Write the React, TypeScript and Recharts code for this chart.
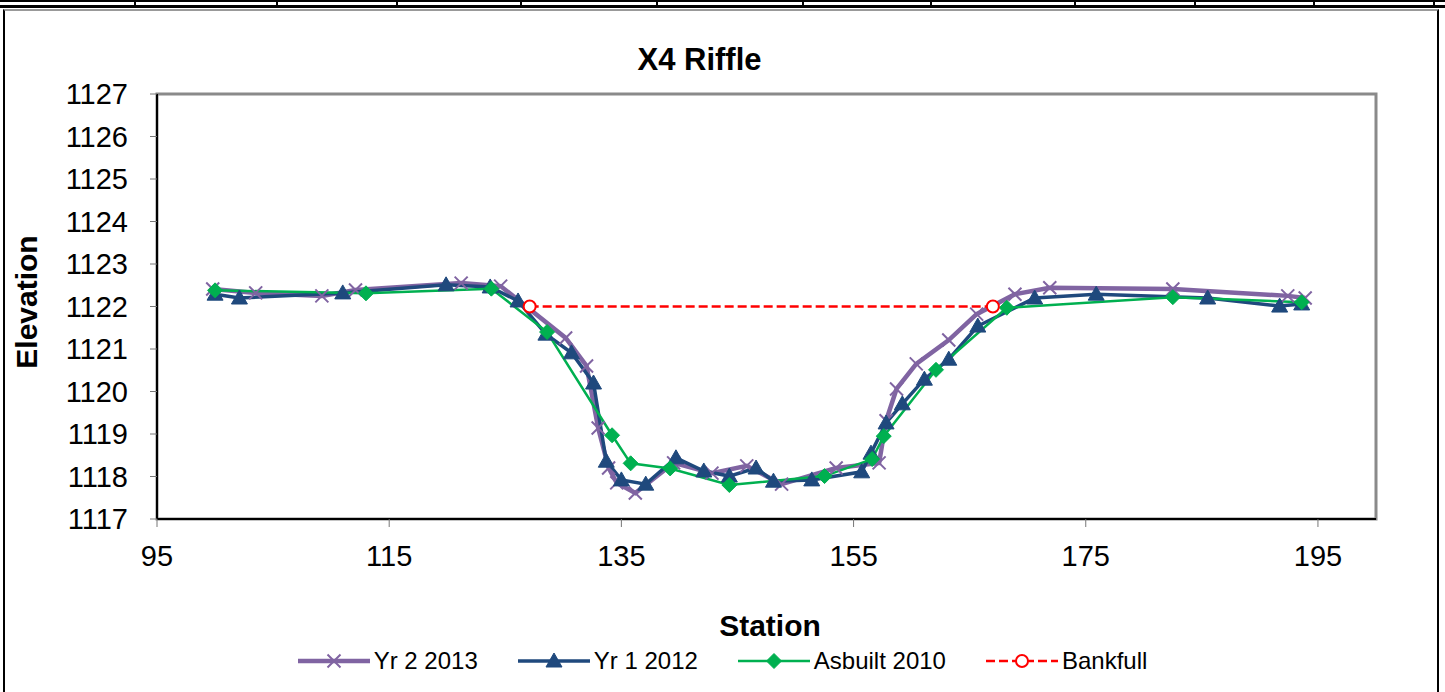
import * as React from "react"
import { LineChart, Line, XAxis, YAxis, ReferenceArea } from "recharts"

// station / elevation pairs
const yr2Station = [99.8, 103.5, 109.2, 112.1, 121.2, 124.6, 130.2, 132.0, 133.0, 133.9, 134.6, 136.2, 139.5, 142.8, 145.8, 148.8, 153.5, 157.2, 157.8, 158.7, 160.4, 163.2, 165.6, 168.9, 171.9, 182.5, 192.4, 193.9]
const yr2Elev = [1122.41, 1122.32, 1122.25, 1122.39, 1122.55, 1122.48, 1121.26, 1120.6, 1119.14, 1118.2, 1117.85, 1117.61, 1118.32, 1118.08, 1118.25, 1117.82, 1118.2, 1118.32, 1119.31, 1120.06, 1120.65, 1121.21, 1121.82, 1122.29, 1122.44, 1122.41, 1122.25, 1122.2]

const yr1Station = [100.0, 102.1, 111.0, 119.9, 123.7, 126.1, 128.5, 130.7, 132.6, 133.7, 135.0, 137.1, 139.7, 142.1, 144.3, 146.6, 148.1, 151.4, 155.7, 156.5, 157.8, 159.2, 161.1, 163.2, 165.7, 170.6, 175.9, 185.5, 191.7, 193.6]
const yr1Elev = [1122.29, 1122.2, 1122.32, 1122.51, 1122.46, 1122.13, 1121.35, 1120.91, 1120.2, 1118.36, 1117.92, 1117.82, 1118.44, 1118.13, 1118.01, 1118.2, 1117.89, 1117.92, 1118.11, 1118.55, 1119.26, 1119.71, 1120.29, 1120.76, 1121.54, 1122.2, 1122.29, 1122.2, 1122.01, 1122.06]

const asbuiltStation = [100.0, 113.0, 123.8, 128.6, 134.2, 135.8, 139.2, 144.3, 152.5, 156.6, 157.6, 162.1, 168.2, 182.5, 193.6]
const asbuiltElev = [1122.38, 1122.31, 1122.42, 1121.4, 1118.97, 1118.31, 1118.19, 1117.8, 1118.01, 1118.41, 1118.95, 1120.51, 1121.97, 1122.22, 1122.1]

const bankfullStation = [127.1, 167.0]
const bankfullElev = [1122.0, 1122.0]

const xTicks = [95, 115, 135, 155, 175, 195]
const yTicks = [1117, 1118, 1119, 1120, 1121, 1122, 1123, 1124, 1125, 1126, 1127]

const zip = (xs: number[], ys: number[]) => xs.map((x, i) => ({ x, y: ys[i] }))

const PURPLE = "#8064A2"
const BLUE = "#1F497D"
const GREEN = "#00B050"
const RED = "#FF0000"
const FONT = "'Liberation Sans', Arial, sans-serif"

function Marker({ kind, cx, cy }: { kind: string; cx: number; cy: number }) {
  if (kind === "x") {
    const r = 6.5
    return (
      <path
        d={`M${cx - r},${cy - r}L${cx + r},${cy + r}M${cx - r},${cy + r}L${cx + r},${cy - r}`}
        stroke={PURPLE}
        strokeWidth={2}
        fill="none"
      />
    )
  }
  if (kind === "tri") {
    return <path d={`M${cx},${cy - 8}L${cx + 8},${cy + 6}L${cx - 8},${cy + 6}Z`} fill={BLUE} stroke={BLUE} />
  }
  if (kind === "diamond") {
    return <path d={`M${cx},${cy - 7.5}L${cx + 7.5},${cy}L${cx},${cy + 7.5}L${cx - 7.5},${cy}Z`} fill={GREEN} stroke={GREEN} />
  }
  return <circle cx={cx} cy={cy} r={6} fill="#fff" stroke={RED} strokeWidth={2} />
}

const dotFor = (kind: string) => (props: any) => {
  const { cx, cy, index } = props
  if (cx == null || cy == null) return <g key={`${kind}-${index}`} />
  return (
    <g key={`${kind}-${index}`}>
      <Marker kind={kind} cx={cx} cy={cy} />
    </g>
  )
}

const SERIES = [
  { name: "Yr 2 2013", color: PURPLE, width: 4.5, kind: "x", dash: undefined as string | undefined },
  { name: "Yr 1 2012", color: BLUE, width: 3.5, kind: "tri", dash: undefined },
  { name: "Asbuilt 2010", color: GREEN, width: 2.5, kind: "diamond", dash: undefined },
  { name: "Bankfull", color: RED, width: 2.5, kind: "circle", dash: "9 4" },
]

function LegendRow() {
  return (
    <div
      style={{
        position: "absolute",
        top: 646,
        left: 0,
        width: 1445,
        display: "flex",
        justifyContent: "center",
        gap: 40,
        fontFamily: FONT,
        fontSize: 24,
      }}
    >
      {SERIES.map((s) => (
        <div key={s.name} style={{ display: "flex", alignItems: "center", gap: 4 }}>
          <svg width={72} height={30}>
            <line x1={0} y1={15} x2={72} y2={15} stroke={s.color} strokeWidth={s.width} strokeDasharray={s.dash} />
            <Marker kind={s.kind} cx={36} cy={15} />
          </svg>
          <span>{s.name}</span>
        </div>
      ))}
    </div>
  )
}

export default function App() {
  const tickStyle = { fill: "#000", fontSize: 29, fontFamily: FONT }
  return (
    <div style={{ position: "absolute", left: 0, top: 0, width: 1445, height: 692, background: "#fff", overflow: "hidden" }}>
      {/* spreadsheet cell row above the chart */}
      <div
        style={{
          position: "absolute",
          left: 0,
          top: 0,
          width: 1445,
          height: 3,
          borderTop: "2px solid #000",
          borderBottom: "3px solid #000",
        }}
      >
        {[134, 276, 396, 520, 656, 802, 930, 1074, 1194, 1313, 1433].map((x) => (
          <div key={x} style={{ position: "absolute", left: x, top: 0, width: 2, height: 3, background: "#000" }} />
        ))}
      </div>
      {/* chart area border */}
      <div
        style={{
          position: "absolute",
          left: 3,
          top: 9,
          width: 1432,
          height: 700,
          borderLeft: "2px solid #000",
          borderRight: "2px solid #000",
          borderTop: "2px solid #999",
        }}
      />

      <div style={{ position: "absolute", left: 0, top: 0 }}>
        <LineChart width={1445} height={692} margin={{ top: 94, right: 69, left: 0, bottom: 113 }}>
          <ReferenceArea x1={95} x2={200} y1={1117} y2={1127} fill="none" stroke="#8a8a8a" strokeWidth={3} ifOverflow="visible" />
          <XAxis
            type="number"
            dataKey="x"
            domain={[95, 200]}
            ticks={xTicks}
            allowDataOverflow
            height={60}
            tick={tickStyle}
            tickSize={8}
            tickMargin={18}
            axisLine={{ stroke: "#000", strokeWidth: 2 }}
            tickLine={{ stroke: "#777" }}
          />
          <YAxis
            type="number"
            dataKey="y"
            domain={[1117, 1127]}
            ticks={yTicks}
            allowDataOverflow
            width={157}
            tick={tickStyle}
            tickSize={7}
            tickMargin={22}
            axisLine={{ stroke: "#000", strokeWidth: 2 }}
            tickLine={{ stroke: "#777" }}
          />
          <Line
            data={zip(yr2Station, yr2Elev)}
            dataKey="y"
            name="Yr 2 2013"
            stroke={PURPLE}
            strokeWidth={4.5}
            dot={dotFor("x")}
            activeDot={false}
            isAnimationActive={false}
          />
          <Line
            data={zip(yr1Station, yr1Elev)}
            dataKey="y"
            name="Yr 1 2012"
            stroke={BLUE}
            strokeWidth={3.5}
            dot={dotFor("tri")}
            activeDot={false}
            isAnimationActive={false}
          />
          <Line
            data={zip(asbuiltStation, asbuiltElev)}
            dataKey="y"
            name="Asbuilt 2010"
            stroke={GREEN}
            strokeWidth={2.5}
            dot={dotFor("diamond")}
            activeDot={false}
            isAnimationActive={false}
          />
          <Line
            data={zip(bankfullStation, bankfullElev)}
            dataKey="y"
            name="Bankfull"
            stroke={RED}
            strokeWidth={2.5}
            strokeDasharray="9 4"
            dot={dotFor("circle")}
            activeDot={false}
            isAnimationActive={false}
          />
        </LineChart>
      </div>

      <div style={{ position: "absolute", left: 0, width: 1399, top: 42, textAlign: "center", fontFamily: FONT, fontWeight: "bold", fontSize: 31 }}>
        X4 Riffle
      </div>
      <div style={{ position: "absolute", left: 0, width: 1540, top: 609, textAlign: "center", fontFamily: FONT, fontWeight: "bold", fontSize: 30 }}>
        Station
      </div>
      <div
        style={{
          position: "absolute",
          left: 27,
          top: 302,
          transform: "translate(-50%, -50%) rotate(-90deg)",
          fontFamily: FONT,
          fontWeight: "bold",
          fontSize: 30,
          whiteSpace: "nowrap",
        }}
      >
        Elevation
      </div>
      <LegendRow />
    </div>
  )
}
